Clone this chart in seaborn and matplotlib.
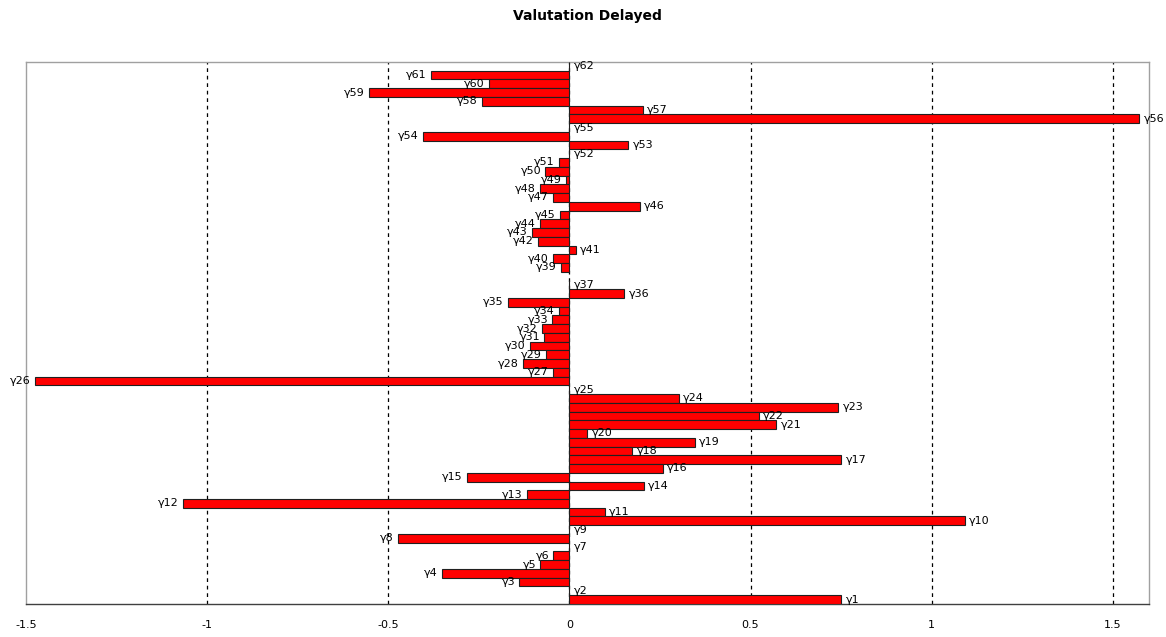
import numpy as np
import pandas as pd
import matplotlib
matplotlib.use("Agg")
import matplotlib.pyplot as plt
import seaborn as sns

# ── Data (γ1 .. γ62) ─────────────────────────────────────────────────────────

LABELS = [f"γ{i}" for i in range(1, 63)]
VALUES = [
    0.75, 0.0, -0.138, -0.352, -0.080, -0.044, 0.0, -0.473, 0.0, 1.091,      # γ1-γ10
    0.097, -1.066, -0.117, 0.205, -0.282, 0.258, 0.751, 0.174, 0.346, 0.050,  # γ11-γ20
    0.571, 0.523, 0.742, 0.302, 0.0, -1.474, -0.044, -0.127, -0.064, -0.108,  # γ21-γ30
    -0.069, -0.075, -0.047, -0.028, -0.169, 0.152, 0.0, np.nan, -0.022, -0.044,  # γ31-γ40
    0.017, -0.086, -0.102, -0.080, -0.025, 0.194, -0.044, -0.080, -0.008, -0.066,  # γ41-γ50
    -0.030, 0.0, 0.163, -0.404, 0.0, 1.573, 0.202, -0.241, -0.554, -0.222,    # γ51-γ60
    -0.382, 0.0,                                                               # γ61-γ62
]
X_TICKS = [-1.5, -1, -0.5, 0, 0.5, 1, 1.5]
X_TICK_LABELS = ["-1.5", "-1", "-0.5", "0", "0.5", "1", "1.5"]
TITLE = "Valutation Delayed"

# ── Plot ──────────────────────────────────────────────────────────────────────

sns.set_style("white")
plt.rcParams["font.family"] = ["DejaVu Sans"]
plt.rcParams["text.color"] = "black"

df = pd.DataFrame({"name": LABELS, "value": VALUES})
order = LABELS[::-1]  # γ62 on top

fig = plt.figure(figsize=(11.66, 6.37), dpi=100)
ax = fig.add_axes([0.0223, 0.052, 0.9631, 0.8507])

sns.barplot(data=df, x="value", y="name", order=order, orient="h",
            color="#ff0000", saturation=1, edgecolor="#202020", linewidth=0.8,
            width=1.0, ax=ax, zorder=3)

ax.set_xlim(-1.5, 1.6)
ax.set_ylim(len(order) - 0.5, -0.5)
ax.set_xticks(X_TICKS)
ax.set_xticklabels(X_TICK_LABELS, fontsize=8)
ax.set_yticks([])
ax.set_xlabel("")
ax.set_ylabel("")

ax.grid(False)
for x in X_TICKS[1:]:
    ax.axvline(x, color="black", linestyle=(0, (3, 3)), linewidth=0.9, zorder=1)

for side in ["top", "right", "left"]:
    ax.spines[side].set_color("#a0a0a0")
    ax.spines[side].set_linewidth(1.0)
ax.spines["bottom"].set_color("#404040")
ax.spines["bottom"].set_linewidth(1.0)
ax.tick_params(axis="x", direction="inout", length=7, width=0.8,
               colors="#404040", labelcolor="black", pad=8)

# bar-end labels
off = 0.012
for i, name in enumerate(order):
    v = df.loc[df["name"] == name, "value"].iloc[0]
    if np.isnan(v):
        continue
    if v < 0:
        ax.text(v - off, i, name, ha="right", va="center", fontsize=8,
                color="black", zorder=4)
    else:
        ax.text(v + off, i, name, ha="left", va="center", fontsize=8,
                color="black", zorder=4)

ax.set_title(TITLE, fontsize=10, fontweight="bold", color="black", pad=30)

fig.savefig("out.png", dpi=100)
